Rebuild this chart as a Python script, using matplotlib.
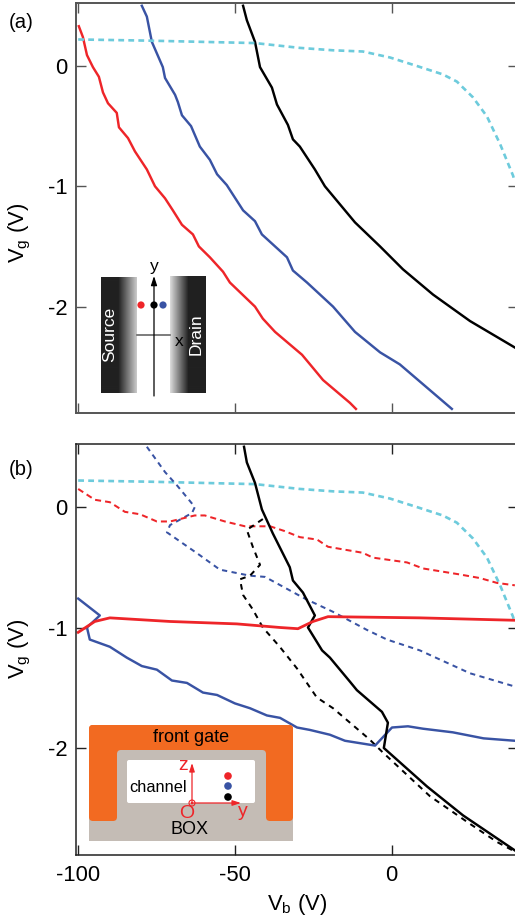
import numpy as np
import matplotlib
matplotlib.use('Agg')
import matplotlib.pyplot as plt
from matplotlib.patches import Rectangle, FancyBboxPatch, Circle

plt.rcParams['font.family'] = ['Liberation Sans', 'DejaVu Sans']
plt.rcParams['mathtext.fontset'] = 'custom'
plt.rcParams['mathtext.rm'] = 'Liberation Sans'
plt.rcParams['mathtext.default'] = 'regular'
plt.rcParams['axes.unicode_minus'] = False

# panel (a)
a_red_vb = [-99.8, -98.5, -97.2, -95.3, -93.4, -92.1, -90.5, -87.7, -87, -84.1, -81.9, -78.1, -75.5, -72.3, -69.8,
            -66.9, -63.4, -61.5, -58, -53.8, -51.6, -43.6, -41.1, -37.2, -28.6, -25.4, -21.9, -13.3, -11.4]
a_red_vg = [.33, .24, .09, -.01, -.09, -.22, -.31, -.39, -.51, -.60, -.71, -.86, -1.0, -1.10, -1.20,
            -1.32, -1.40, -1.50, -1.59, -1.71, -1.80, -2.0, -2.10, -2.21, -2.40, -2.50, -2.61, -2.80, -2.85]
a_blue_vb = [-79.7, -78.1, -76.5, -73, -72.3, -69.1, -68.2, -66.9, -64, -61.2, -58, -55.7, -52.6, -47.4, -43.6,
             -41.4, -33.4, -31.5, -27, -18.7, -11.7, -3.7, 2.6, 19.2]
a_blue_vg = [.50, .41, .20, -.01, -.10, -.24, -.30, -.41, -.50, -.67, -.78, -.90, -.99, -1.20, -1.29,
             -1.40, -1.59, -1.70, -1.80, -2.0, -2.21, -2.38, -2.48, -2.85]
a_black_vb = [-47.4, -46.2, -43.6, -42, -38.2, -36.6, -33.1, -31.5, -29.3, -24.5, -21.3, -11.7, -3.7, 3.6, 13.2, 25, 39.3]
a_black_vg = [.50, .38, .20, -.01, -.18, -.32, -.49, -.61, -.67, -.86, -1.0, -1.30, -1.50, -1.69, -1.90, -2.12, -2.34]

# same cyan trace in both panels
cyan_vb = [-100, -77.1, -43.6, -29.3, -18.7, -9.2, -.5, 8, 16.3, 20.8, 25.9, 30.4, 34.6, 38.7, 39.3]
cyan_vg = [.22, .21, .19, .15, .13, .12, .07, 0, -.07, -.13, -.26, -.42, -.65, -.91, -.96]

# panel (b)
b_black_vb = [-47.1, -46.2, -43.6, -41.4, -37.9, -32.5, -31.5, -28.3, -24.5, -26.7, -22.2, -19.7, -13.3, -11.1,
              -3.1, -1.2, -2.5, 11.3, 22.8, 39.3]
b_black_vg = [.50, .37, .20, -.02, -.22, -.50, -.61, -.71, -.90, -1.0, -1.19, -1.25, -1.45, -1.52,
              -1.70, -1.79, -2.0, -2.32, -2.56, -2.85]
b_black_d_vb = [-41.1, -46.2, -44.3, -42, -45.2, -48.4, -47.4, -44.3, -41.1, -35.7, -30.2, -23.9, -18.7, -7, -3.1,
                12.2, 25, 33.6, 39.3]
b_black_d_vg = [-.10, -.19, -.33, -.48, -.57, -.60, -.73, -.85, -1.0, -1.16, -1.34, -1.58, -1.67, -1.93, -2.03,
                -2.40, -2.63, -2.78, -2.86]
b_red_vb = [-100, -94.7, -89.9, -70.7, -49.4, -35.6, -29.9, -25.1, -20.3, 9, 39.3]
b_red_vg = [-1.04, -.95, -.92, -.95, -.97, -1.0, -1.01, -.95, -.91, -.92, -.94]
b_red_d_vb = [-100, -94.7, -89.9, -85.1, -80.3, -74.9, -70.7, -62.8, -59.6, -53.2, -46.8, -38.8, -34.1, -29.3,
              -23.8, -20.3, -9.2, -6, 4.9, 10, 21.8, 28.2, 33.6, 39.3]
b_red_d_vg = [.15, .06, .04, -.04, -.06, -.12, -.12, -.07, -.07, -.12, -.16, -.16, -.20, -.25,
              -.27, -.33, -.38, -.42, -.46, -.51, -.56, -.59, -.63, -.65]
b_blue_vb = [-100, -93.1, -97.2, -96.3, -89.9, -84.5, -79.7, -74.9, -70.1, -65.3, -60.2, -55.7, -50, -45.2, -39.8,
             -35.6, -30.2, -26.1, -19.7, -14.9, -5.3, .1, 5.2, 10, 19.5, 29.3, 39.3]
b_blue_vg = [-.76, -.90, -1.0, -1.10, -1.16, -1.25, -1.32, -1.35, -1.44, -1.46, -1.54, -1.56, -1.63, -1.67, -1.73,
             -1.75, -1.83, -1.85, -1.89, -1.94, -1.98, -1.83, -1.82, -1.84, -1.87, -1.92, -1.94]
b_blue_d_vb = [-78.1, -72.3, -68.5, -65, -62.8, -63.7, -70.7, -71.7, -61.2, -54.8, -45.2, -40.4, -27.7, -18.7,
               -7.9, -1.5, 9, 25, 39.3]
b_blue_d_vg = [.50, .29, .18, .07, 0, -.05, -.15, -.21, -.40, -.52, -.57, -.58, -.76, -.87,
               -1.02, -1.10, -1.19, -1.38, -1.49]

x_ticks = [-100, -50, 0]
y_ticks = [0, -1, -2]

RED = '#ee2529'
BLUE = '#3953a4'
CYAN = '#6dcbdc'
BLACK = '#000000'
W, H = 515, 919

fig = plt.figure(figsize=(W / 100, H / 100), dpi=100)


def make_axes(top, bottom, spine_col, spine_lw):
    ax = fig.add_axes([76 / W, 1 - bottom / H, (518 - 76) / W, (bottom - top) / H])
    ax.set_xlim(-100.7, 40.3)
    ax.set_ylim(-2.884, 0.523)
    ax.set_xticks(x_ticks)
    ax.set_yticks(y_ticks)
    ax.tick_params(direction='in', length=7.2, width=1, top=True, right=True, color=spine_col,
                   labelsize=15.8, pad=6)
    ax.tick_params(axis='x', pad=7.5)
    for s in ax.spines.values():
        s.set_linewidth(spine_lw)
        s.set_color(spine_col)
    ax.spines['right'].set_visible(False)
    return ax


ax1 = make_axes(3, 413, '#555555', 1.4)
ax2 = make_axes(444, 854.5, '#222222', 1.1)
ax1.tick_params(labelbottom=False)

solid = dict(lw=1.75, solid_joinstyle='round')
ax1.plot(a_red_vb, a_red_vg, color=RED, **solid)
ax1.plot(a_blue_vb, a_blue_vg, color=BLUE, **solid)
ax1.plot(a_black_vb, a_black_vg, color=BLACK, **solid)
ax1.plot(cyan_vb, cyan_vg, color=CYAN, lw=1.9, dashes=(2.2, 1.6))

ax2.plot(cyan_vb, cyan_vg, color=CYAN, lw=1.9, dashes=(2.2, 1.6))
ax2.plot(b_blue_d_vb, b_blue_d_vg, color=BLUE, lw=1.45, dashes=(2.6, 2.2))
ax2.plot(b_red_d_vb, b_red_d_vg, color=RED, lw=1.45, dashes=(3, 2))
ax2.plot(b_black_d_vb, b_black_d_vg, color=BLACK, lw=1.45, dashes=(2.8, 2.6))
ax2.plot(b_blue_vb, b_blue_vg, color=BLUE, **solid)
ax2.plot(b_black_vb, b_black_vg, color=BLACK, **solid)
ax2.plot(b_red_vb, b_red_vg, color=RED, lw=2, solid_joinstyle='round')

ylab = r'V$_{g}$ (V)'
ax1.set_ylabel(ylab, fontsize=15.8)
ax1.yaxis.set_label_coords(-0.098, 0.44)
ax2.set_ylabel(ylab, fontsize=15.8)
ax2.yaxis.set_label_coords(-0.098, 0.50)
ax2.set_xlabel(r'V$_{b}$ (V)', fontsize=15.8)
ax2.xaxis.set_label_coords(0.50, -0.092)

# overlay in pixel coordinates for the two schematics and panel letters
ov = fig.add_axes([0, 0, 1, 1], facecolor='none')
ov.axis('off')

fig.text(9 / W, 1 - 23 / H, '(a)', fontsize=14.6, va='center')
fig.text(9 / W, 1 - 470 / H, '(b)', fontsize=14.6, va='center')

# inset (a): source and drain
DARK = 0.13
grad_s = np.concatenate([np.full(17, DARK), np.linspace(DARK, 0.78, 19)])[None, :]
grad_d = np.concatenate([np.linspace(0.85, DARK, 19), np.full(17, DARK)])[None, :]
ov.imshow(grad_s, extent=(101, 137, 393, 277), cmap='gray', vmin=0, vmax=1, aspect='auto', interpolation='bilinear')
ov.imshow(grad_d, extent=(170, 206, 393, 276), cmap='gray', vmin=0, vmax=1, aspect='auto', interpolation='bilinear')
ov.plot([137, 170], [335, 335], color='#666666', lw=1.2)
ov.annotate('', xy=(154, 276), xytext=(154, 396),
            arrowprops=dict(arrowstyle='-|>,head_length=0.55,head_width=0.18', color='black', lw=0.9, shrinkA=0, shrinkB=0))
ov.scatter([141, 154, 163], [305, 305, 305], s=27, c=[RED, 'black', BLUE], linewidths=0, zorder=5)
ov.text(154, 266, 'y', fontsize=12.5, ha='center', va='center')
ov.text(179, 342, 'x', fontsize=12.5, ha='center', va='center')
ov.text(110, 334, 'Source', color='white', fontsize=12.5, rotation=90, ha='center', va='center')
ov.text(196, 334, 'Drain', color='white', fontsize=12.5, rotation=90, ha='center', va='center')

# inset (b): device cross section
GREY = '#c4bcb5'
ORANGE = '#f26a21'


def rbox(x0, y0, x1, y1, col, r=4, z=3):
    ov.add_patch(FancyBboxPatch((x0 + r, y0 + r), x1 - x0 - 2 * r, y1 - y0 - 2 * r,
                                boxstyle='round,pad=%g,rounding_size=%g' % (r, r),
                                fc=col, ec='none', zorder=z))


ov.add_patch(Rectangle((89, 795), 204, 46, fc=GREY, ec='none', zorder=2))
rbox(89, 725, 293, 760, ORANGE)
rbox(89, 725, 117, 821, ORANGE)
rbox(266, 725, 293, 821, ORANGE)
rbox(117, 750, 266, 841, GREY, z=4)
ov.add_patch(Rectangle((117, 800), 149, 41, fc=GREY, ec='none', zorder=4))
rbox(127, 760, 255, 803, 'white', r=2, z=5)

ov.annotate('', xy=(192, 763), xytext=(192, 804),
            arrowprops=dict(arrowstyle='-|>,head_length=0.5,head_width=0.16', color=RED, lw=0.9, shrinkA=0, shrinkB=0), zorder=7)
ov.annotate('', xy=(241, 803), xytext=(191, 803),
            arrowprops=dict(arrowstyle='-|>,head_length=0.5,head_width=0.16', color=RED, lw=0.9, shrinkA=0, shrinkB=0), zorder=7)
ov.add_patch(Circle((192, 803), 3, fc='none', ec=RED, lw=0.8, zorder=7))
ov.add_patch(Circle((192, 803), 1, fc=RED, ec='none', zorder=7))
ov.scatter([228, 228, 228], [776, 786, 797], s=30, c=[RED, BLUE, 'black'], linewidths=0, zorder=7)
ov.text(191, 737, 'front gate', fontsize=13, ha='center', va='center', zorder=8)
ov.text(158, 788, 'channel', fontsize=11.8, ha='center', va='center', zorder=8)
ov.text(190, 830, 'BOX', fontsize=13, ha='center', va='center', zorder=8)
ov.text(183, 766, 'z', fontsize=14, color=RED, ha='center', va='center', zorder=8)
ov.text(243, 811, 'y', fontsize=14, color=RED, ha='center', va='center', zorder=8)
ov.text(187, 813, 'O', fontsize=14, color=RED, ha='center', va='center', zorder=8)

ov.set_xlim(0, W)
ov.set_ylim(H, 0)

fig.savefig('out.png', dpi=100)
